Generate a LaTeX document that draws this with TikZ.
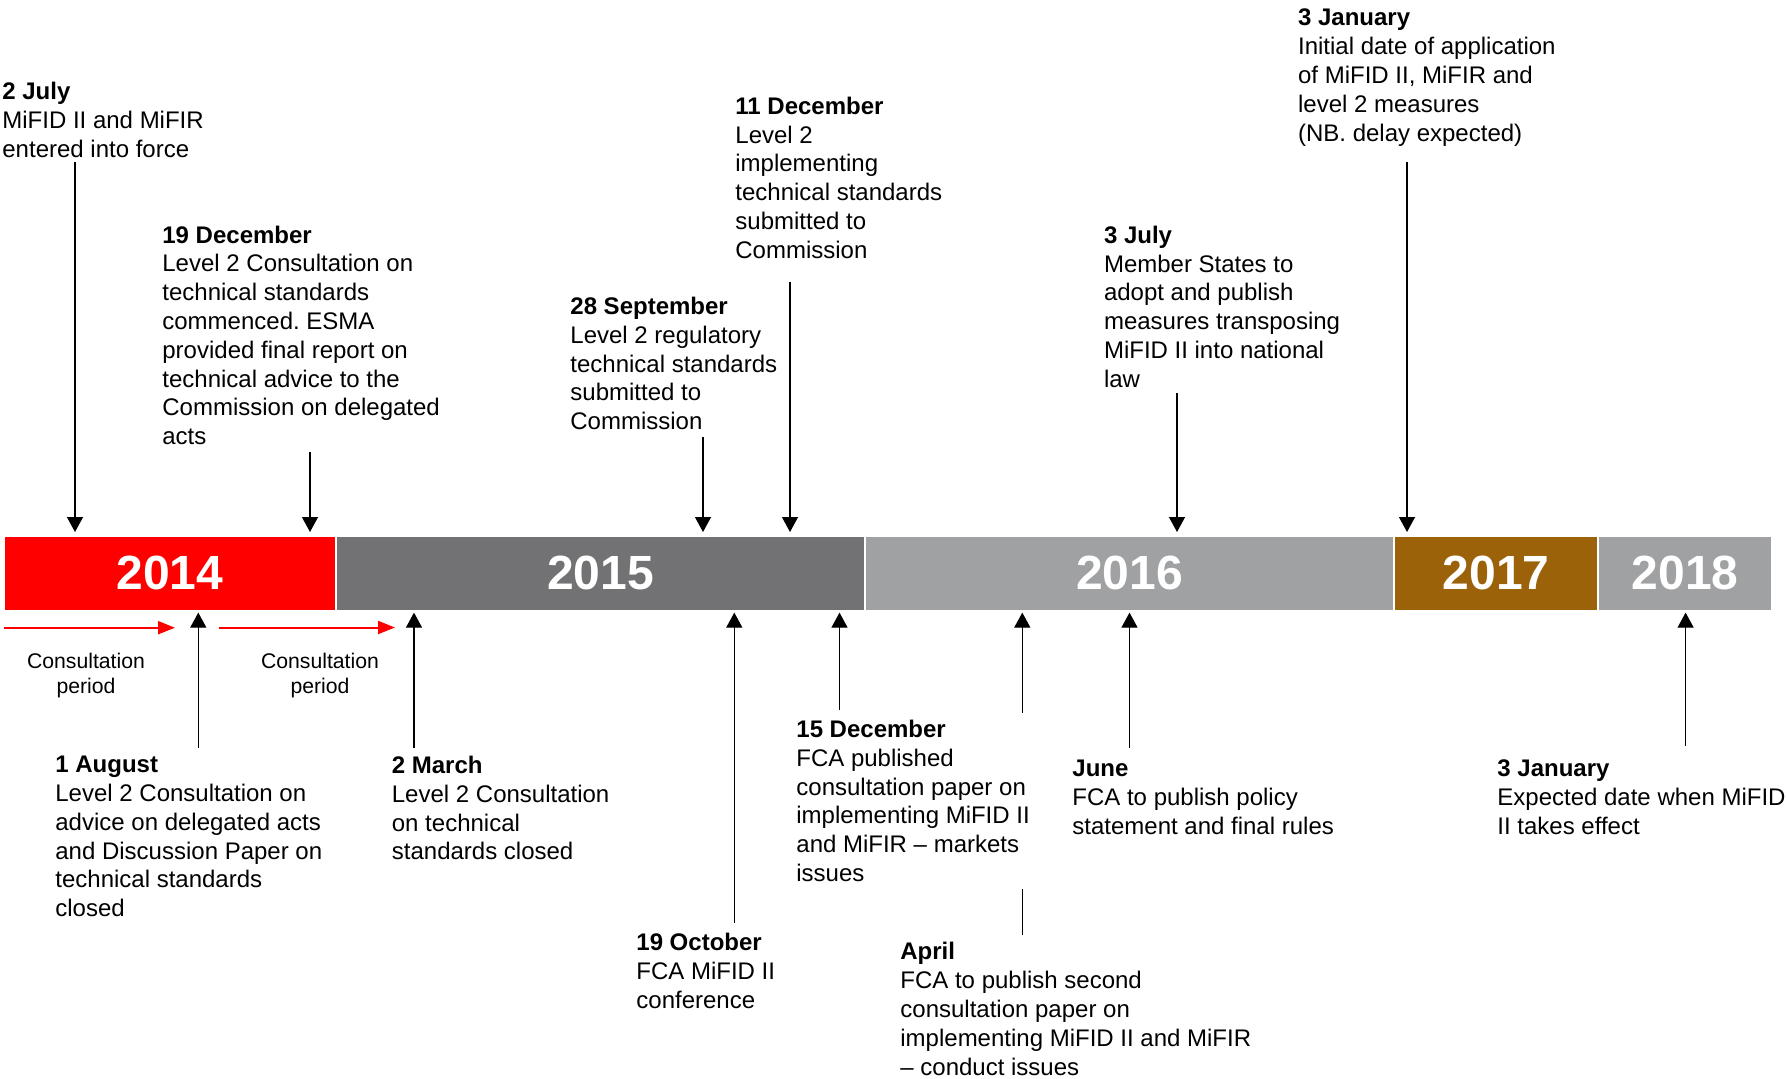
\documentclass[tikz,border=0pt]{standalone}
\usepackage{fontspec}
\setmainfont{Liberation Sans}
\usepackage{xcolor}
\usepackage{tikz}
\usetikzlibrary{arrows.meta, positioning, backgrounds}
\definecolor{yrred}{RGB}{255,0,0}
\definecolor{yrdark}{RGB}{114,114,116}
\definecolor{yrlight}{RGB}{160,161,163}
\definecolor{yrbrown}{RGB}{155,98,10}
\frenchspacing

\begin{document}
\begin{tikzpicture}[x=0.5pt, y=-0.5pt,
        yearbox/.style={minimum height=37.3pt, inner sep=0pt, outer sep=0pt,
                        draw=white, line width=0.6pt, text=white,
                        font=\fontsize{24}{24}\selectfont\bfseries},
        event/.style={align=left, anchor=north west, inner sep=0pt,
                      font=\fontsize{12}{14.4}\selectfont},
        evarrow/.style={-{Triangle[length=7.5pt, width=8pt]}, line width=0.6pt},
        conarrow/.style={-{Triangle[length=8.5pt, width=6.5pt]}, line width=1pt, red},
        conlabel/.style={align=center, inner sep=0pt,
                         font=\fontsize{10.6}{12.5}\selectfont}]
      \useasboundingbox (0,0) rectangle (1787,1078);
      % year bar
      \node[yearbox, fill=yrred, minimum width=166pt, anchor=west] (y14) at (4,573.3) {\raisebox{-1pt}{2014}};
      \node[yearbox, fill=yrdark, minimum width=264.5pt, right=0pt of y14] (y15) {\raisebox{-1pt}{2015}};
      \node[yearbox, fill=yrlight, minimum width=264.5pt, right=0pt of y15] (y16) {\raisebox{-1pt}{2016}};
      \node[yearbox, fill=yrbrown, minimum width=102pt, right=0pt of y16] (y17) {\raisebox{-1pt}{2017}};
      \node[yearbox, fill=yrlight, minimum width=87pt, right=0pt of y17] (y18) {\raisebox{-1pt}{2018}};
      % events above
      \node[event] (jul14) at (2,81.7) {\textbf{2 July}\\MiFID II and MiFIR\\entered into force};
      \node[event] (dec14) at (162,225.2) {\textbf{19 December}\\Level 2 Consultation on\\technical standards\\commenced. ESMA\\provided final report on\\technical advice to the\\Commission on delegated\\acts};
      \node[event] (sep15) at (570,296.7) {\textbf{28 September}\\Level 2 regulatory\\technical standards\\submitted to\\Commission};
      \node[event] (dec15) at (735,96.4) {\textbf{11 December}\\Level 2\\implementing\\technical standards\\submitted to\\Commission};
      \node[event] (jul16) at (1103.6,225.4) {\textbf{3 July}\\Member States to\\adopt and publish\\measures transposing\\MiFID II into national\\law};
      \node[event] (jan17) at (1297.7,8.7) {\textbf{3 January}\\Initial date of application\\of MiFID II, MiFIR and\\level 2 measures\\(NB. delay expected)};
      % events below
      \node[event] (aug14) at (55,755.7) {\textbf{1 August}\\Level 2 Consultation on\\advice on delegated acts\\and Discussion Paper on\\technical standards\\closed};
      \node[event] (mar15) at (391.5,755.7) {\textbf{2 March}\\Level 2 Consultation\\on technical\\standards closed};
      \node[event] (oct15) at (636,933) {\textbf{19 October}\\FCA MiFID II\\conference};
      \node[event, fill=white, inner ysep=3.5pt] (fca15) at (796,712.7) {\textbf{15 December}\\FCA published\\consultation paper on\\implementing MiFID II\\and MiFIR -- markets\\issues};
      \node[event] (apr16) at (900,942) {\textbf{April}\\FCA to publish second\\consultation paper on\\implementing MiFID II and MiFIR\\-- conduct issues};
      \node[event] (jun16) at (1072,759.7) {\textbf{June}\\FCA to publish policy\\statement and final rules};
      \node[event] (jan18) at (1497,759.7) {\textbf{3 January}\\Expected date when MiFID\\II takes effect};
      % consultation periods
      \node[conlabel] (con1) at (86,675) {Consultation\\period};
      \node[conlabel] (con2) at (320,675) {Consultation\\period};
      \coordinate (cs1) at (4,627.7);
      \coordinate (ce1) at (175,627.7);
      \coordinate (cs2) at (219,627.5);
      \coordinate (ce2) at (395,627.5);
      % arrow feet
      \coordinate (pjul14) at (75,162.3);
      \coordinate (pdec14) at (310,451.7);
      \coordinate (psep15) at (703,437.3);
      \coordinate (pdec15) at (790,281.7);
      \coordinate (pjul16) at (1177,393);
      \coordinate (pjan17) at (1407,162.3);
      \coordinate (paug14) at (198.3,747.7);
      \coordinate (pmar15) at (414,747.7);
      \coordinate (poct15) at (734.3,923);
      \coordinate (pfca15) at (839.5,710);
      \coordinate (papr16) at (1022.3,935.3);
      \coordinate (pjun16) at (1129.5,747.7);
      \coordinate (pjan18) at (1685.6,746);
      \begin{scope}[on background layer]
        \draw[conarrow] (cs1) -- (ce1);
        \draw[conarrow] (cs2) -- (ce2);
        \draw[evarrow, shorten >=2pt] (pjul14) -- (pjul14 |- y14.north);
        \draw[evarrow, shorten >=2pt] (pdec14) -- (pdec14 |- y14.north);
        \draw[evarrow, shorten >=2pt] (psep15) -- (psep15 |- y15.north);
        \draw[evarrow, shorten >=2pt] (pdec15) -- (pdec15 |- y15.north);
        \draw[evarrow, shorten >=2pt] (pjul16) -- (pjul16 |- y16.north);
        \draw[evarrow, shorten >=2pt] (pjan17) -- (pjan17 |- y17.north);
        \draw[evarrow, shorten >=1pt] (paug14) -- (paug14 |- y14.south);
        \draw[evarrow, shorten >=1pt] (pmar15) -- (pmar15 |- y15.south);
        \draw[evarrow, shorten >=1pt] (poct15) -- (poct15 |- y15.south);
        \draw[evarrow, shorten >=1pt] (pfca15) -- (pfca15 |- y15.south);
        \draw[evarrow, shorten >=1pt] (papr16) -- (papr16 |- y16.south);
        \draw[evarrow, shorten >=1pt] (pjun16) -- (pjun16 |- y16.south);
        \draw[evarrow, shorten >=1pt] (pjan18) -- (pjan18 |- y18.south);
      \end{scope}
    \end{tikzpicture}
\end{document}
